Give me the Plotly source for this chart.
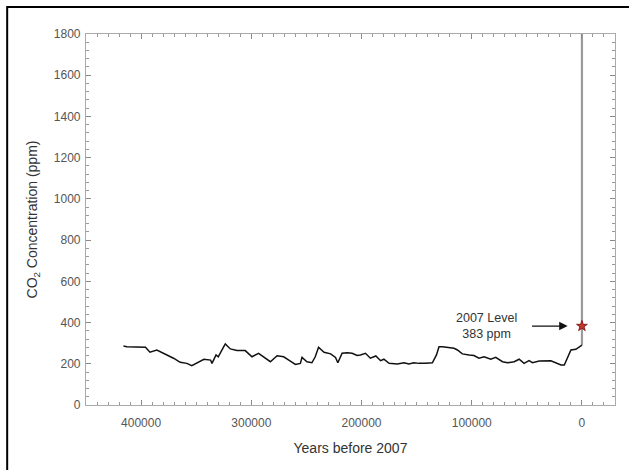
import plotly.graph_objects as go

# Years before 2007 and CO2 concentration (ppm)
years = [416000, 413000, 396000, 392000, 385700, 378000, 370600, 364500, 358500, 354000,
         349000, 343000, 337000, 335700, 332000, 330000, 325000, 323600, 319000, 313000,
         305500, 302500, 299400, 293400, 288800, 282700, 276600, 270600, 266000, 260000,
         255500, 254000, 249500, 245000, 242000, 239000, 234000, 228000, 223600, 221500,
         217600, 213000, 208500, 204000, 201000, 196400, 192000, 187000, 182700, 179700,
         175000, 167500, 161500, 157000, 152500, 148000, 142000, 135700, 132000, 129700,
         126600, 122000, 116000, 113000, 108500, 102400, 98000, 93400, 88800, 82700,
         78200, 72100, 67500, 61500, 57000, 52500, 48000, 44800, 38800, 28200,
         19000, 16000, 13000, 10000, 5500, 1000, 0]
co2 = [286, 283, 280, 256, 267, 247, 227, 207, 202, 191,
       205, 222, 218, 202, 243, 234, 283, 296, 272, 264,
       264, 251, 234, 251, 234, 210, 239, 234, 218, 197,
       202, 231, 210, 205, 234, 280, 256, 248, 231, 205,
       251, 254, 251, 240, 243, 251, 227, 238, 215, 222,
       202, 199, 205, 199, 205, 202, 202, 205, 243, 283,
       283, 280, 275, 267, 248, 243, 240, 227, 234, 222,
       231, 210, 205, 210, 222, 202, 215, 205, 213, 215,
       194, 194, 234, 267, 270, 283, 290]

modern_years = [0, 0]
modern_co2 = [290, 1800]

level_year = [0]
level_co2 = [383]

FONT = "Liberation Sans, Arial"

fig = go.Figure()
fig.add_trace(go.Scatter(x=modern_years, y=modern_co2, mode="lines",
                         line=dict(color="#9a9a9a", width=2.2), showlegend=False))
fig.add_trace(go.Scatter(x=years, y=co2, mode="lines",
                         line=dict(color="#111111", width=1.5), showlegend=False))
fig.add_trace(go.Scatter(x=level_year, y=level_co2, mode="markers",
                         marker=dict(symbol="star", size=8, color="#c0392b",
                                     line=dict(color="#8b1a1a", width=1)),
                         showlegend=False))

fig.add_annotation(x=13000, y=383, ax=48000, ay=383, xref="x", yref="y",
                   axref="x", ayref="y", text=" ", showarrow=True,
                   arrowhead=2, arrowsize=1.3, arrowwidth=1.3, arrowcolor="#111")
fig.add_annotation(x=86400, y=383, xref="x", yref="y", showarrow=False,
                   text="2007 Level<br>383 ppm", align="center",
                   font=dict(family=FONT, size=12.5, color="#333"))

# outer frame line (left and top)
L, T = -0.149, 1.073
fig.add_shape(type="path", xref="paper", yref="paper",
              path=f"M {L},-0.2 L {L},{T} L 1.05,{T}",
              line=dict(color="black", width=2))

axis_common = dict(showline=True, linecolor="#aaaaaa", linewidth=1.2, mirror="allticks",
                   ticks="inside", ticklen=5, tickcolor="#888", showgrid=False,
                   zeroline=False,
                   tickfont=dict(family=FONT, size=12, color="#555"))

fig.update_xaxes(range=[450000, -30000], tickvals=[400000, 300000, 200000, 100000, 0],
                 ticktext=["400000", "300000", "200000", "100000", "0"],
                 ticklabelstandoff=6,
                 minor=dict(dtick=10000, tick0=0, ticks="inside", ticklen=2.5, tickcolor="#999"),
                 title=dict(text="Years before 2007", standoff=14,
                            font=dict(family=FONT, size=14, color="#333")),
                 **axis_common)
fig.update_yaxes(range=[0, 1800], dtick=200, ticklabelstandoff=2,
                 minor=dict(dtick=40, ticks="inside", ticklen=2.5, tickcolor="#999"),
                 title=dict(text="CO<sub>2</sub> Concentration (ppm)", standoff=12,
                            font=dict(family=FONT, size=14, color="#333")),
                 **axis_common)

fig.update_layout(width=629, height=470, margin=dict(l=86, r=14, t=34, b=65),
                  plot_bgcolor="white", paper_bgcolor="white")

fig.write_html("out.html")
